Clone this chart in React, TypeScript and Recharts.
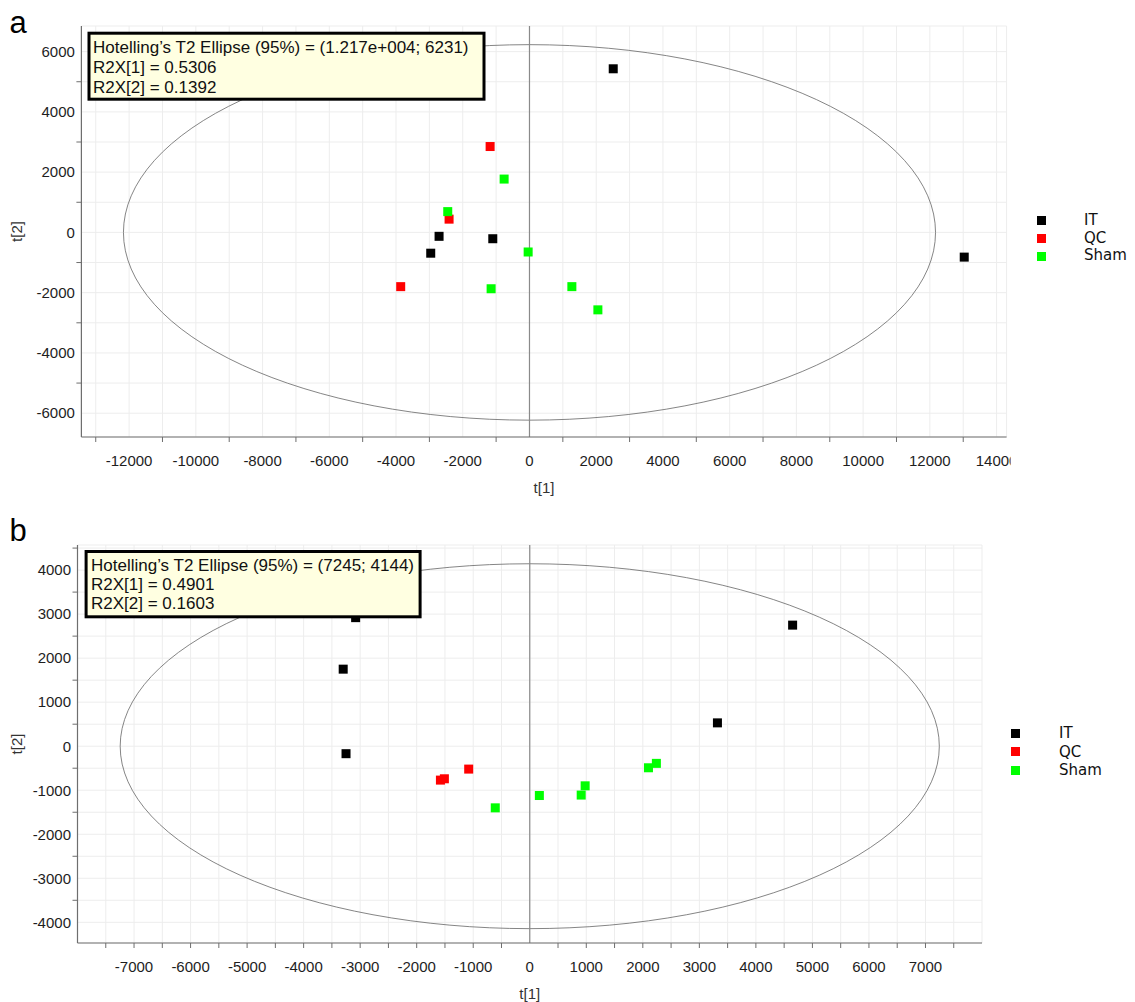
import React from 'react';
import {
  ScatterChart,
  Scatter,
  XAxis,
  YAxis,
  CartesianGrid,
  ReferenceLine,
  ReferenceArea,
  Legend,
  Label,
} from 'recharts';

// ---------- shared ----------
const GROUPS = ['IT', 'QC', 'Sham'];
const GROUP_COLORS = ['#000000', '#FF0000', '#00FF00'];

// ---------- panel a ----------
const A_IT = [
  { x: 2510, y: 5430 },
  { x: -2710, y: -130 },
  { x: -2960, y: -690 },
  { x: -1100, y: -210 },
  { x: 13030, y: -820 },
];
const A_QC = [
  { x: -1180, y: 2850 },
  { x: -2410, y: 440 },
  { x: -3860, y: -1800 },
];
const A_SHAM = [
  { x: -760, y: 1770 },
  { x: -2450, y: 690 },
  { x: -40, y: -650 },
  { x: -1150, y: -1870 },
  { x: 1270, y: -1800 },
  { x: 2050, y: -2570 },
];
const A_ELLIPSE = [12170, 6231];
const A_INFO = [
  'Hotelling\u2019s T2 Ellipse (95%) = (1.217e+004; 6231)',
  'R2X[1] = 0.5306',
  'R2X[2] = 0.1392',
];
const A_X_DOMAIN = [-13430, 14300];
const A_Y_DOMAIN = [-6790, 6850];
const A_X_TICKS = [-13000, -12000, -11000, -10000, -9000, -8000, -7000, -6000, -5000, -4000, -3000, -2000, -1000, 0, 1000, 2000, 3000, 4000, 5000, 6000, 7000, 8000, 9000, 10000, 11000, 12000, 13000, 14000];
const A_X_LABELS = [-12000, -10000, -8000, -6000, -4000, -2000, 0, 2000, 4000, 6000, 8000, 10000, 12000, 14000];
const A_X_MARKS = [-13000, -11000, -9000, -7000, -5000, -3000, -1000, 1000, 3000, 5000, 7000, 9000, 11000, 13000];
const A_Y_TICKS = [-6000, -5000, -4000, -3000, -2000, -1000, 0, 1000, 2000, 3000, 4000, 5000, 6000];
const A_Y_LABELS = [-6000, -4000, -2000, 0, 2000, 4000, 6000];
const A_Y_MARKS = [-5000, -3000, -1000, 1000, 3000, 5000];

// ---------- panel b ----------
const B_IT = [
  { x: -3080, y: 2920 },
  { x: -3300, y: 1750 },
  { x: -3250, y: -170 },
  { x: 4650, y: 2750 },
  { x: 3320, y: 530 },
];
const B_QC = [
  { x: -1080, y: -520 },
  { x: -1510, y: -740 },
  { x: -1580, y: -770 },
];
const B_SHAM = [
  { x: -610, y: -1400 },
  { x: 170, y: -1120 },
  { x: 910, y: -1110 },
  { x: 980, y: -900 },
  { x: 2100, y: -490 },
  { x: 2240, y: -390 },
];
const B_ELLIPSE = [7245, 4144];
const B_INFO = [
  'Hotelling\u2019s T2 Ellipse (95%) = (7245; 4144)',
  'R2X[1] = 0.4901',
  'R2X[2] = 0.1603',
];
const B_X_DOMAIN = [-8000, 8000];
const B_Y_DOMAIN = [-4470, 4570];
const B_X_TICKS = [-7500, -7000, -6500, -6000, -5500, -5000, -4500, -4000, -3500, -3000, -2500, -2000, -1500, -1000, -500, 0, 500, 1000, 1500, 2000, 2500, 3000, 3500, 4000, 4500, 5000, 5500, 6000, 6500, 7000, 7500];
const B_X_LABELS = [-7000, -6000, -5000, -4000, -3000, -2000, -1000, 0, 1000, 2000, 3000, 4000, 5000, 6000, 7000];
const B_X_MARKS = [-7500, -7000, -6500, -6000, -5500, -5000, -4500, -4000, -3500, -3000, -2500, -2000, -1500, -1000, -500, 500, 1000, 1500, 2000, 2500, 3000, 3500, 4000, 4500, 5000, 5500, 6000, 6500, 7000, 7500];
const B_Y_TICKS = [-4000, -3500, -3000, -2500, -2000, -1500, -1000, -500, 0, 500, 1000, 1500, 2000, 2500, 3000, 3500, 4000, 4500];
const B_Y_LABELS = [-4000, -3000, -2000, -1000, 0, 1000, 2000, 3000, 4000];
const B_Y_MARKS = [-3500, -2500, -1500, -500, 500, 1500, 2500, 3500, 4500];

const TICK_FONT = "'Liberation Sans', Arial, sans-serif";
const AXIS_COLOR = '#6e6e6e';

type PanelCfg = {
  id: string;
  top: number;
  height: number;
  margin: { top: number; right: number; bottom: number; left: number };
  series: { x: number; y: number }[][];
  ellipse: number[];
  xDomain: number[];
  yDomain: number[];
  xTicks: number[];
  xLabels: number[];
  xMarks: number[];
  yTicks: number[];
  yLabels: number[];
  yMarks: number[];
  legend: { left: number; top: number; rowH: number; textLeft: number };
};

const WIDTH = 1135;

const makeXTick = (cfg: PanelCfg) => (props: any) => {
  const { x, y, payload } = props;
  const v = payload.value;
  const axisY = y - 6;
  const plotRight = WIDTH - cfg.margin.right;
  const clipId = `xclip-${cfg.id}`;
  return (
    <g>
      <defs>
        <clipPath id={clipId}>
          <rect x={0} y={axisY - 10} width={plotRight + 4} height={60} />
        </clipPath>
      </defs>
      {cfg.xMarks.includes(v) && (
        <line x1={x} x2={x} y1={axisY} y2={axisY + 5} stroke={AXIS_COLOR} strokeWidth={1} />
      )}
      {cfg.xLabels.includes(v) && (
        <text
          x={x}
          y={axisY + 28.5}
          textAnchor="middle"
          fontFamily={TICK_FONT}
          fontSize={15}
          fill="#1e1e1e"
          clipPath={`url(#${clipId})`}
        >
          {String(v)}
        </text>
      )}
    </g>
  );
};

const makeYTick = (cfg: PanelCfg) => (props: any) => {
  const { x, y, payload } = props;
  const v = payload.value;
  const axisX = x + 6;
  return (
    <g>
      {cfg.yMarks.includes(v) && (
        <line x1={axisX - 5} x2={axisX} y1={y} y2={y} stroke={AXIS_COLOR} strokeWidth={1} />
      )}
      {cfg.yLabels.includes(v) && (
        <text
          x={axisX - 6.5}
          y={y + 5.3}
          textAnchor="end"
          fontFamily={TICK_FONT}
          fontSize={15}
          fill="#1e1e1e"
        >
          {String(v)}
        </text>
      )}
    </g>
  );
};

const LegendBox = ({ cfg }: { cfg: PanelCfg }) => (
  <div>
    {GROUPS.map((g, i) => (
      <div key={g} style={{ position: 'relative', height: cfg.legend.rowH }}>
        <span
          style={{
            position: 'absolute',
            left: 0,
            top: (cfg.legend.rowH - 9) / 2,
            width: 9,
            height: 9,
            background: GROUP_COLORS[i],
          }}
        />
        <span
          style={{
            position: 'absolute',
            left: cfg.legend.textLeft,
            top: 0,
            lineHeight: `${cfg.legend.rowH}px`,
            fontFamily: "'DejaVu Sans', Verdana, sans-serif",
            fontSize: 15,
            color: '#111',
            whiteSpace: 'nowrap',
          }}
        >
          {g}
        </span>
      </div>
    ))}
  </div>
);

const Panel = ({ cfg }: { cfg: PanelCfg }) => {
  const [ea, eb] = cfg.ellipse;
  return (
    <div style={{ position: 'absolute', left: 0, top: cfg.top, width: WIDTH, height: cfg.height }}>
      <ScatterChart width={WIDTH} height={cfg.height} margin={cfg.margin}>
        <CartesianGrid stroke="#ededed" strokeWidth={1} />
        <XAxis
          type="number"
          dataKey="x"
          domain={cfg.xDomain}
          ticks={cfg.xTicks}
          interval={0}
          allowDataOverflow
          height={40}
          tickSize={6}
          tickMargin={0}
          tickLine={false}
          axisLine={{ stroke: AXIS_COLOR, strokeWidth: 1.2 }}
          tick={makeXTick(cfg)}
        >
          <Label
            content={(p: any) => {
              const vb = p.viewBox || { x: 0, y: 0, width: 0 };
              return (
                <text
                  x={vb.x + vb.width / 2}
                  y={vb.y + 55.5}
                  textAnchor="middle"
                  fontFamily={TICK_FONT}
                  fontSize={15}
                  fill="#333"
                >
                  t[1]
                </text>
              );
            }}
          />
        </XAxis>
        <YAxis
          type="number"
          dataKey="y"
          domain={cfg.yDomain}
          ticks={cfg.yTicks}
          interval={0}
          allowDataOverflow
          width={60}
          tickSize={6}
          tickMargin={0}
          tickLine={false}
          axisLine={{ stroke: AXIS_COLOR, strokeWidth: 1.2 }}
          tick={makeYTick(cfg)}
        >
          <Label
            content={(p: any) => {
              const vb = p.viewBox || { x: 0, y: 0, height: 0 };
              const cx = 16.5;
              const cy = vb.y + vb.height / 2;
              return (
                <text
                  x={cx}
                  y={cy}
                  transform={`rotate(-90 ${cx} ${cy})`}
                  textAnchor="middle"
                  dominantBaseline="central"
                  fontFamily={TICK_FONT}
                  fontSize={15}
                  fill="#333"
                >
                  t[2]
                </text>
              );
            }}
          />
        </YAxis>
        <ReferenceArea
          x1={-ea}
          x2={ea}
          y1={-eb}
          y2={eb}
          ifOverflow="visible"
          shape={(p: any) => (
            <ellipse
              cx={p.x + p.width / 2}
              cy={p.y + p.height / 2}
              rx={Math.abs(p.width) / 2}
              ry={Math.abs(p.height) / 2}
              fill="none"
              stroke="#666"
              strokeWidth={0.8}
            />
          )}
        />
        <ReferenceLine x={0} stroke="#8a8a8a" strokeWidth={1.2} />
        {cfg.series.map((data, i) => (
          <Scatter
            key={GROUPS[i]}
            name={GROUPS[i]}
            data={data}
            fill={GROUP_COLORS[i]}
            isAnimationActive={false}
            shape={(p: any) => (
              <rect x={p.cx - 4.5} y={p.cy - 4.5} width={9} height={9} fill={GROUP_COLORS[i]} />
            )}
          />
        ))}
        <Legend
          layout="vertical"
          align="center"
          verticalAlign="middle"
          wrapperStyle={{
            position: 'absolute',
            left: cfg.legend.left,
            top: cfg.legend.top,
            width: 95,
            height: cfg.legend.rowH * 3,
            margin: 0,
            padding: 0,
          }}
          content={() => <LegendBox cfg={cfg} />}
        />
      </ScatterChart>
    </div>
  );
};

const PANEL_A: PanelCfg = {
  id: 'a',
  top: 0,
  height: 500,
  margin: { top: 26, right: 128.4, bottom: 23, left: 21.4 },
  series: [A_IT, A_QC, A_SHAM],
  ellipse: A_ELLIPSE,
  xDomain: A_X_DOMAIN,
  yDomain: A_Y_DOMAIN,
  xTicks: A_X_TICKS,
  xLabels: A_X_LABELS,
  xMarks: A_X_MARKS,
  yTicks: A_Y_TICKS,
  yLabels: A_Y_LABELS,
  yMarks: A_Y_MARKS,
  legend: { left: 1037, top: 211.7, rowH: 17.9, textLeft: 47 },
};

const PANEL_B: PanelCfg = {
  id: 'b',
  top: 500,
  height: 502,
  margin: { top: 45, right: 153, bottom: 19, left: 17.5 },
  series: [B_IT, B_QC, B_SHAM],
  ellipse: B_ELLIPSE,
  xDomain: B_X_DOMAIN,
  yDomain: B_Y_DOMAIN,
  xTicks: B_X_TICKS,
  xLabels: B_X_LABELS,
  xMarks: B_X_MARKS,
  yTicks: B_Y_TICKS,
  yLabels: B_Y_LABELS,
  yMarks: B_Y_MARKS,
  legend: { left: 1010.5, top: 224.4, rowH: 18.25, textLeft: 48.5 },
};

const InfoBox = ({ x, y, w, h, lines, lineH, textX, firstBase }: any) => (
  <g>
    <rect x={x + 1.5} y={y + 1.5} width={w - 3} height={h - 3} fill="#FFFFE1" stroke="#000" strokeWidth={3} />
    {lines.map((t: string, i: number) => (
      <text
        key={i}
        x={textX}
        y={firstBase + i * lineH}
        fontFamily={TICK_FONT}
        fontSize={17}
        fill="#111"
      >
        {t}
      </text>
    ))}
  </g>
);

export default function App() {
  return (
    <div style={{ position: 'absolute', left: 0, top: 0, width: WIDTH, height: 1002, background: '#fff' }}>
      <Panel cfg={PANEL_A} />
      <Panel cfg={PANEL_B} />
      <svg
        width={WIDTH}
        height={1002}
        style={{ position: 'absolute', left: 0, top: 0, pointerEvents: 'none' }}
      >
        <text x={9.5} y={33} fontFamily={TICK_FONT} fontSize={31} fill="#000">a</text>
        <text x={9.5} y={541} fontFamily={TICK_FONT} fontSize={31} fill="#000">b</text>
        <InfoBox x={87.5} y={31.7} w={398} h={69} lines={A_INFO} lineH={20} textX={93} firstBase={52.7} />
        <InfoBox x={84.6} y={550} w={337} h={68.3} lines={B_INFO} lineH={19} textX={91} firstBase={571} />
      </svg>
    </div>
  );
}
